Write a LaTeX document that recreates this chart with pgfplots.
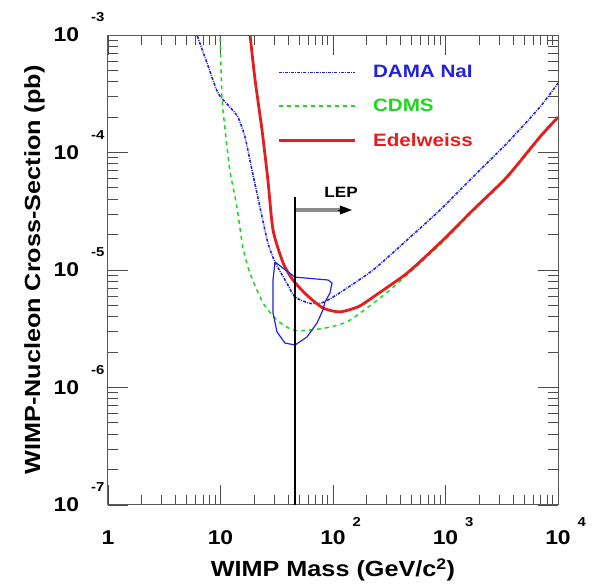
\documentclass[border=0pt]{standalone}
\usepackage{pgfplots}
\pgfplotsset{compat=1.18}
\usepackage{fontspec}
\setmainfont[FakeStretch=1.15]{Liberation Sans}
\usetikzlibrary{arrows.meta}
\definecolor{dama}{RGB}{35,35,215}
\definecolor{cdms}{RGB}{30,215,30}
\definecolor{edel}{RGB}{228,30,30}
\newcommand{\tpx}[1]{10\rlap{\hspace{7bp}\smash{\raisebox{18bp}{\fontsize{13}{13}\selectfont #1}}}}
\newcommand{\tpy}[1]{10\hspace{12bp}\smash{\raisebox{20bp}{\fontsize{13}{13}\selectfont #1}}}
\begin{document}
\begin{tikzpicture}
\begin{axis}[
  scale only axis,
  width=450bp, height=470bp,
  xmode=log, ymode=log,
  xmin=1, xmax=10000, ymin=1e-7, ymax=1e-3,
  xtick={1,10,100,1000,10000},
  xticklabels={1,10,\tpx{2},\tpx{3},\tpx{4}},
  ytick={1e-7,1e-6,1e-5,1e-4,1e-3},
  yticklabels={\tpy{-7},\tpy{-6},\tpy{-5},\tpy{-4},\tpy{-3}},
  tick label style={font=\bfseries\fontsize{20}{20}\selectfont},
  x tick label style={yshift=-22bp},
  major tick length=20bp, minor tick length=10bp,
  tick style={black!70, line width=0.8bp},
  axis line style={black!65, line width=1bp},
  xlabel={WIMP Mass (GeV/c\textsuperscript{2})},
  ylabel={WIMP-Nucleon Cross-Section (pb)},
  every axis x label/.style={at={(rel axis cs:0.5,-0.106)}, anchor=north,
    font=\bfseries\fontsize{22}{22}\selectfont},
  every axis y label/.style={at={(rel axis cs:-0.133,0.5)}, rotate=90, anchor=south,
    font=\bfseries\fontsize{22}{22}\selectfont},
  legend style={at={(rel axis cs:0.3756,0.94)}, anchor=north west, draw=none, fill=none,
    inner sep=0pt, row sep=16bp, column sep=15bp,
    font=\bfseries\fontsize{18}{18}\selectfont},
  legend cell align=left,
  legend image code/.code={\draw[#1] (0bp,0bp) -- (76bp,0bp);},
]
\addplot[dama, line width=1.6bp, dash pattern=on 3bp off 1.2bp on 0.8bp off 1.2bp, smooth, tension=0.4] coordinates {
(6.0,1.1e-3) (6.18,1e-3) (7.59,5.78e-4) (9.5,3.21e-4) (12.1,2.44e-4) (14.3,2.0e-4)
(16.5,1.36e-4) (19.05,7.1e-5) (22.4,3.44e-5) (26.4,1.7e-5) (30.5,1.17e-5) (39,7.7e-6)
(45.9,5.9e-6) (62.5,5.2e-6) (81.5,5.3e-6) (115,6.4e-6) (227,1.0e-5) (455,1.8e-5)
(894,3.24e-5) (1755,6.2e-5) (3520,1.2e-4) (6920,2.44e-4) (10000,3.9e-4)};
\addlegendentry{\textcolor{dama}{DAMA NaI}}
\addplot[cdms, line width=1.5bp, dash pattern=on 4bp off 4bp, smooth, tension=0.4] coordinates {
(9.8,1.1e-3) (9.9,1e-3) (10.3,2.96e-4) (11.0,1.55e-4) (12.1,7.1e-5) (14.0,3.44e-5)
(15.8,1.57e-5) (18.3,9.4e-6) (23.9,5.24e-6) (31.8,3.75e-6) (44.1,3.08e-6) (62.5,3.08e-6)
(94,3.27e-6) (142,3.75e-6) (321,6.76e-6) (894,1.64e-5) (1755,3.17e-5) (3520,6.05e-5)
(6920,1.33e-4) (10000,1.96e-4)};
\addlegendentry{\textcolor{cdms}{CDMS}}
\addplot[edel, line width=2.8bp, smooth, tension=0.4] coordinates {
(18.0,1.1e-3) (18.3,1e-3) (20.3,4.14e-4) (23.4,1.55e-4) (26.4,5.8e-5) (29.3,2.19e-5)
(36,1.15e-5) (44.1,8.2e-6) (58.7,6.1e-6) (81.5,4.75e-6) (115,4.4e-6) (170,4.9e-6)
(240,6.1e-6) (455,9.4e-6) (894,1.7e-5) (1755,3.24e-5) (3520,6.2e-5) (6920,1.36e-4)
(10000,2.0e-4)};
\addlegendentry{\textcolor{edel}{Edelweiss}}
\addplot[dama, line width=1.2bp, forget plot] coordinates {
(30.5,1.17e-5) (45.9,8.7e-6) (90.3,8.22e-6) (98,7.75e-6) (94,6.37e-6) (84.9,5.35e-6)
(81.5,4.57e-6) (72.1,3.54e-6) (58.7,2.69e-6) (46,2.30e-6) (37.4,2.39e-6) (31.8,2.97e-6)
(29.3,4.30e-6) (29.3,8.22e-6) (30.5,1.17e-5)};
\addplot[black, line width=1.8bp, forget plot] coordinates {(46,1e-7) (46,4.2e-5)};
\addplot[draw=black!45, line width=3.5bp, forget plot] coordinates {(46.6,3.24e-5) (122,3.24e-5)};
\addplot[draw=black, fill=black, line width=0.5bp, -{Triangle[length=12bp,width=9bp]}, forget plot]
  coordinates {(110,3.24e-5) (147,3.24e-5)};
\node[font=\bfseries\fontsize{15}{15}\selectfont] at (axis cs:118,4.55e-5) {LEP};
\coordinate (A) at (rel axis cs:0,0);
\coordinate (B) at (rel axis cs:1,1);
\end{axis}
\pgfresetboundingbox
\path[use as bounding box] ([xshift=-108bp,yshift=-81bp]A) rectangle ([xshift=34bp,yshift=35bp]B);
\end{tikzpicture}
\end{document}
